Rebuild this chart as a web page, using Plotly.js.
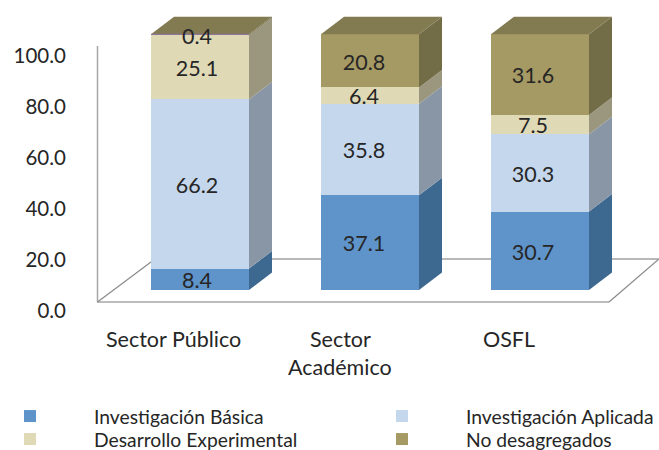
<!DOCTYPE html>
<html><head><meta charset="utf-8">
<script src="https://cdn.plot.ly/plotly-3.0.1.min.js"></script>
<style>html,body{margin:0;padding:0;background:#fff}</style></head>
<body><div id="chart" style="width:659px;height:450px"></div>
<script>
const categories = ["Sector Público", "Sector Académico", "OSFL"];
const categoryLines = [["Sector Público"], ["Sector", "Académico"], ["OSFL"]];
const seriesNames = ["Investigación Básica", "Investigación Aplicada", "Desarrollo Experimental", "No desagregados"];
const basica = [8.4, 37.1, 30.7];
const aplicada = [66.2, 35.8, 30.3];
const experimental = [25.1, 6.4, 7.5];
const noDesagregados = [0.4, 20.8, 31.6];
const yTicks = [0, 20, 40, 60, 80, 100];
const frontColors = ["#5f94cb", "#c4d7ec", "#dfd9b6", "#a69a64"];
const sideColors = ["#3d6890", "#8896a6", "#9b977f", "#736d47"];
const legendIds = ["legend", "legend2", "legend3", "legend4"];
const topColor = "#827a51";
const textColor = "#262626";
const fontFamily = "Lato, 'Open Sans', sans-serif";

const W = 659, H = 450;
const pxX = 170, pxY = 2.555;          // pixels per data unit
const x0px = 200, y0px = 290;          // where category 0 / value 0 fall
const barW = 98 / pxX;
const dx = 23 / pxX, dy = 17.5 / pxY;  // depth of the 3D extrusion
const series = [basica, aplicada, experimental, noDesagregados];
const xRange = [(0 - x0px) / pxX, (W - x0px) / pxX];
const yRange = [(y0px - H) / pxY, y0px / pxY];
const xi = categories.map((_, i) => i);
const labelShift = [-3, -6, -7];

const traces = [];
series.forEach((vals, s) => traces.push({
  type: "bar", name: seriesNames[s], x: xi, y: vals, width: barW, legend: legendIds[s],
  marker: { color: frontColors[s], line: { width: 0 } }, hoverinfo: "skip"
}));
const labelX = [], labelY = [], labelT = [];
xi.forEach(i => {
  let base = 0;
  const r = i + barW / 2, l = i - barW / 2;
  series.forEach((vals, s) => {
    const top = base + vals[i];
    traces.push({
      type: "scatter", mode: "lines", showlegend: false, hoverinfo: "skip",
      x: [r, r + dx, r + dx, r, r], y: [base, base + dy, top + dy, top, base],
      line: { width: 0 }, fill: "toself", fillcolor: sideColors[s]
    });
    labelX.push(i + labelShift[i] / pxX);
    labelY.push(base + vals[i] / 2 - 3.5 / pxY);
    labelT.push(vals[i].toFixed(1));
    base = top;
  });
  traces.push({
    type: "scatter", mode: "lines", showlegend: false, hoverinfo: "skip",
    x: [l, r, r + dx, l + dx, l], y: [base, base, base + dy, base + dy, base],
    line: { width: 0 }, fill: "toself", fillcolor: topColor
  });
});
const tot0 = series.reduce((a, v) => a + v[0], 0);
traces.push({
  type: "scatter", mode: "lines", showlegend: false, hoverinfo: "skip",
  x: [-barW / 2, barW / 2], y: [tot0, tot0], line: { color: "#8a6fa8", width: 1 }
});
traces.push({
  type: "scatter", mode: "text", showlegend: false, hoverinfo: "skip",
  x: labelX, y: labelY, text: labelT, textposition: "middle center",
  textfont: { family: fontFamily, size: 21.5, color: textColor }
});
traces.push({
  type: "scatter", mode: "markers", showlegend: false, hoverinfo: "skip",
  x: yTicks.map(() => 0), y: yTicks, yaxis: "y2", marker: { opacity: 0, size: 1 }
});

const fx = p => p / W, fy = p => 1 - p / H;
const frameLine = (x1, y1, x2, y2, color, width) => ({
  type: "line", xref: "paper", yref: "paper", layer: "below",
  x0: fx(x1), y0: fy(y1), x1: fx(x2), y1: fy(y2), line: { color, width }
});
const shapes = [
  frameLine(97.5, 46, 97.5, 302, "#a6a6a6", 1.5),
  frameLine(97, 302, 609, 302, "#a6a6a6", 1.5),
  frameLine(97.5, 302, 155, 259, "#8c8c8c", 1.25),
  frameLine(609, 302, 659, 259, "#8c8c8c", 1.25),
  frameLine(155, 259, 659, 259, "#a0a0a0", 1.5)
];

const annotations = [];
const catX = [173, 340, 509];
categoryLines.forEach((lines, i) => lines.forEach((t, k) => annotations.push({
  xref: "x", yref: "y", x: (catX[i] - x0px) / pxX, y: (y0px - (339 + 28 * k)) / pxY,
  text: t, showarrow: false, xanchor: "center", yanchor: "middle",
  font: { family: fontFamily, size: 21.5, color: textColor }
})));

const legendBase = {
  orientation: "v", xanchor: "left", yanchor: "middle",
  itemwidth: 118, traceorder: "normal",
  font: { family: fontFamily, size: 19.3, color: textColor },
  bgcolor: "rgba(0,0,0,0)", itemclick: false, itemdoubleclick: false
};
const legendAt = (px, py) => Object.assign({}, legendBase, { x: px / W, y: 1 - py / H });
const layout = {
  width: W, height: H, margin: { l: 0, r: 0, t: 0, b: 0, pad: 0, autoexpand: false },
  paper_bgcolor: "#fff", plot_bgcolor: "rgba(0,0,0,0)",
  barmode: "stack", showlegend: true, hovermode: false,
  font: { family: fontFamily, color: textColor },
  xaxis: { visible: false, range: xRange, fixedrange: true, domain: [0, 1] },
  yaxis: { visible: false, range: yRange, fixedrange: true, domain: [0, 1] },
  yaxis2: {
    overlaying: "y", anchor: "free", position: 66 / W, side: "left",
    range: [(310.5 - H) / 2.55, 310.5 / 2.55], tickvals: yTicks, tickformat: ".1f",
    showgrid: false, zeroline: false, showline: false, ticks: "", fixedrange: true,
    tickfont: { family: fontFamily, size: 20.5, color: textColor }
  },
  legend: legendAt(-34, 416.5),
  legend2: legendAt(338, 416.5),
  legend3: legendAt(-34, 439.5),
  legend4: legendAt(338, 439.5),
  shapes, annotations
};
Plotly.newPlot("chart", traces, layout, { displayModeBar: false, responsive: false, staticPlot: true });
</script></body></html>
